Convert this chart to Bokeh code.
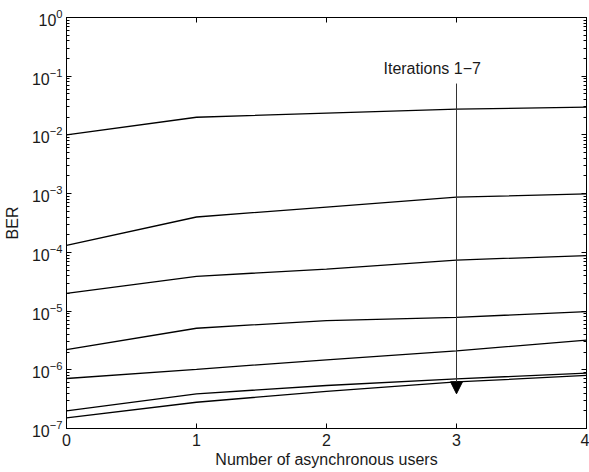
from bokeh.plotting import figure
from bokeh.models import (Range1d, FixedTicker, LinearAxis, LogAxis, Label, Arrow,
                          NormalHead, CustomJSTickFormatter)
from bokeh.embed import file_html
from bokeh.resources import INLINE

users = [0, 1, 2, 3, 4]
x_ticks = [0, 1, 2, 3, 4]
y_major = [1e-7, 1e-6, 1e-5, 1e-4, 1e-3, 1e-2, 1e-1, 1e0]

ber_it1 = [1.0e-2, 2.0e-2, 2.35e-2, 2.75e-2, 2.97e-2]
ber_it2 = [1.31e-4, 4.0e-4, 5.9e-4, 8.7e-4, 9.9e-4]
ber_it3 = [2.0e-5, 3.9e-5, 5.2e-5, 7.4e-5, 8.8e-5]
ber_it4 = [2.2e-6, 5.1e-6, 6.9e-6, 7.8e-6, 9.8e-6]
ber_it5 = [7.1e-7, 1.02e-6, 1.48e-6, 2.1e-6, 3.2e-6]
ber_it6 = [2.0e-7, 3.9e-7, 5.4e-7, 7.0e-7, 8.8e-7]
ber_it7 = [1.52e-7, 2.8e-7, 4.3e-7, 6.2e-7, 8.0e-7]
series = [ber_it1, ber_it2, ber_it3, ber_it4, ber_it5, ber_it6, ber_it7]

arrow_x = 3
arrow_top = 7.5e-2
arrow_tip = 3.9e-7
arrow_text = "Iterations 1\u22127"

FONT = "Liberation Sans"
TXT = "#1a1a1a"

p = figure(width=589, height=472, output_backend="svg", toolbar_location=None,
           x_range=Range1d(0, 4), y_range=Range1d(1e-7, 1), y_axis_type="log",
           min_border_left=65, min_border_right=3, min_border_top=17,
           min_border_bottom=44)
p.background_fill_color = "white"
p.border_fill_color = "white"
p.outline_line_color = "black"
p.outline_line_width = 1
p.grid.visible = False

minor = [m * 10.0 ** e for e in range(-7, 0) for m in range(2, 10)]


def style_axis(ax, labels=True):
    ax.axis_line_color = "black"
    ax.major_tick_in = 5
    ax.major_tick_out = 0
    ax.minor_tick_in = 3
    ax.minor_tick_out = 0
    ax.major_tick_line_color = "black"
    ax.minor_tick_line_color = "black"
    ax.major_label_text_font = FONT
    ax.major_label_text_font_size = "16px"
    ax.major_label_text_color = TXT
    ax.axis_label_text_font = FONT
    ax.axis_label_text_font_size = "16px"
    ax.axis_label_text_font_style = "normal"
    ax.axis_label_text_color = TXT
    if not labels:
        ax.major_label_text_font_size = "0px"
        ax.major_label_standoff = 0


xax = p.xaxis[0]
xax.ticker = FixedTicker(ticks=x_ticks)
style_axis(xax)
xax.axis_label = "Number of asynchronous users"
xax.major_label_standoff = 5
xax.axis_label_standoff = 2

yax = p.yaxis[0]
yax.ticker = FixedTicker(ticks=y_major, minor_ticks=minor)
style_axis(yax)
yax.axis_label = "BER"
yax.major_label_standoff = 4
yax.axis_label_standoff = 8

top = LinearAxis(ticker=FixedTicker(ticks=x_ticks),
                 formatter=CustomJSTickFormatter(code="return ''"))
style_axis(top, labels=False)
p.add_layout(top, "above")

right = LogAxis(ticker=FixedTicker(ticks=y_major, minor_ticks=minor),
                formatter=CustomJSTickFormatter(code="return ''"))
style_axis(right, labels=False)
p.add_layout(right, "right")

for s in series:
    p.line(users, s, line_color="black", line_width=1.3)

p.add_layout(Arrow(end=NormalHead(size=12, fill_color="black", line_color="black",
                                  line_width=1),
                   x_start=arrow_x, y_start=arrow_top, x_end=arrow_x, y_end=arrow_tip,
                   line_color="#333333", line_width=1))

p.add_layout(Label(x=arrow_x, y=0.135, x_offset=-73, text=arrow_text,
                   text_font=FONT, text_font_size="16px", text_color=TXT,
                   text_align="left", text_baseline="middle"))

open("out.html", "w").write(file_html(p, INLINE))
